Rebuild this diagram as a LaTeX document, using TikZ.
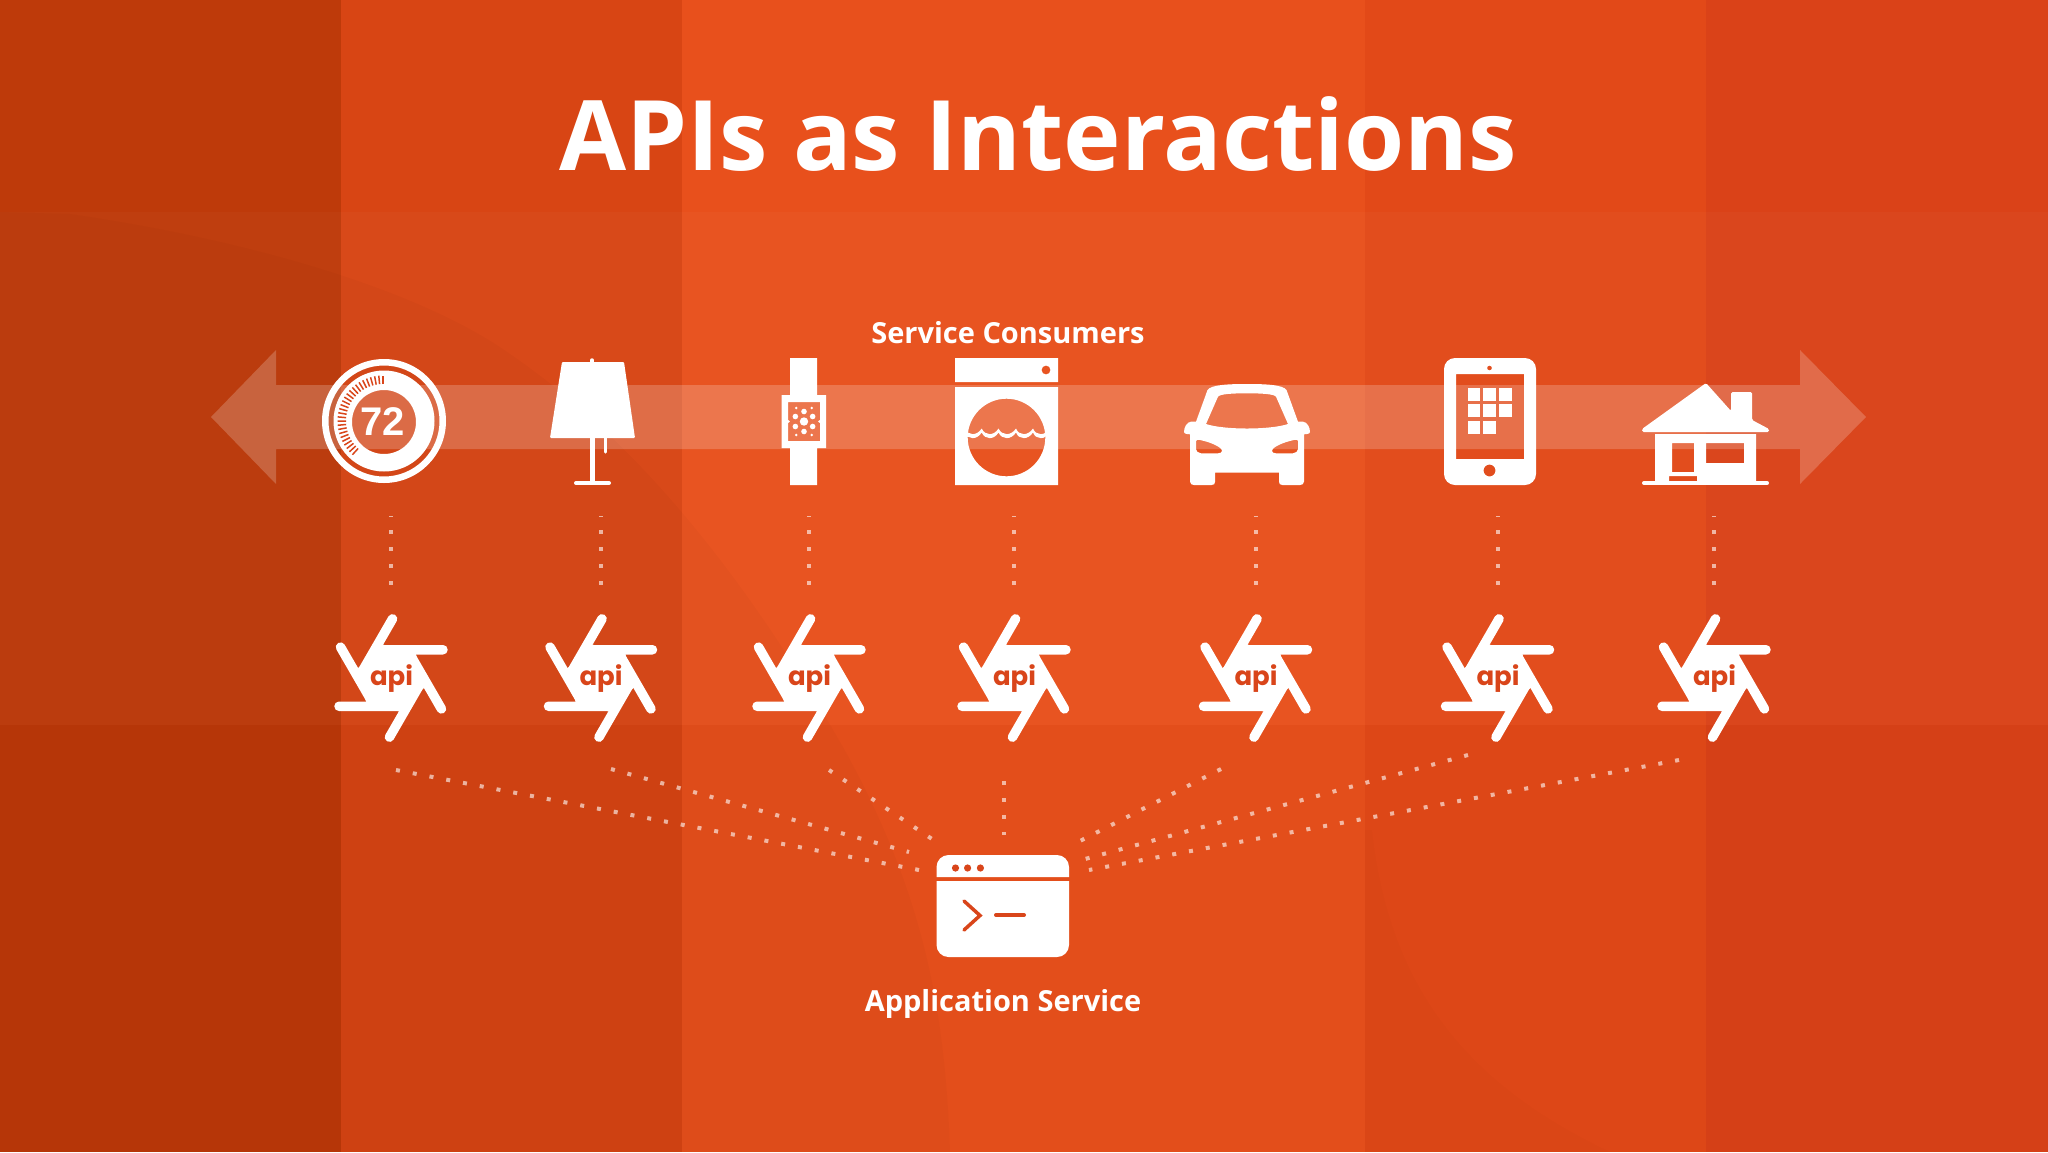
\documentclass[tikz,border=0pt]{standalone}
\usepackage{fontspec}
\setmainfont{Open Sans}
\newfontfamily\apifont{Poppins}
\newfontfamily\digitfont{Liberation Sans}
\definecolor{oc}{HTML}{D9451A}
\tikzset{
  x=1pt,y=-1pt,
  dots/.style={draw=white,draw opacity=.6,line width=4pt,dash pattern=on 4pt off 13.05pt},
  vdots/.style={draw=white,draw opacity=.6,line width=4pt,dash pattern=on 4pt off 13pt,dash phase=3pt},
  lbl/.style={text=white,font=\bfseries\fontsize{29}{32}\selectfont,inner sep=0pt},
  apiicon/.pic={
    \foreach \r in {0,60,...,300} {
      \fill[white,rotate=\r] (0,0) -- (-8.2,-33) [rounded corners=4.6pt] -- (56.7,-33) -- (56.7,-23.5) [sharp corners] -- (25,-23.5) -- cycle;
    }
    \fill[white] (25,-23.5) -- (32.9,9.9) -- (7.9,33.4) -- (-25,23.5) -- (-32.9,-9.9) -- (-7.9,-33.4) -- cycle;
    \node (t) [text=oc,inner sep=0pt,font=\apifont\bfseries\fontsize{26}{26}\selectfont] at (0.5,1) {api};
  }
}
\begin{document}
\begin{tikzpicture}
\useasboundingbox (0,0) rectangle (2048,1152);
% background columns
\fill[oc] (0,0) rectangle (2048,1152);
\fill[fill={rgb,255:red,190;green,58;blue,10}] (0,0) rectangle (341,1152);
\fill[fill={rgb,255:red,216;green,69;blue,20}] (341,0) rectangle (682,1152);
\fill[fill={rgb,255:red,232;green,80;blue,28}] (682,0) rectangle (1365,1152);
\fill[fill={rgb,255:red,226;green,73;blue,24}] (1365,0) rectangle (1706,1152);
\fill[fill={rgb,255:red,218;green,66;blue,24}] (1706,0) rectangle (2048,1152);
% horizontal bands
\fill[white,opacity=.022] (0,212) rectangle (2048,725);
\fill[black,opacity=.018] (0,725) rectangle (2048,1152);
% soft curves
\fill[black,opacity=.018] (0,212) -- (70,214) .. controls (250,240) and (420,290) .. (510,354) .. controls (650,450) and (760,600) .. (848,756) .. controls (920,890) and (945,1000) .. (950,1152) -- (0,1152) -- cycle;
\fill[black,opacity=.012] (1372,830) .. controls (1390,1000) and (1480,1090) .. (1610,1152) -- (1365,1152) -- (1365,830) -- cycle;
% band arrow
\fill[white,opacity=.2] (211,417) -- (276,350) -- (276,385) -- (1800,385) -- (1800,350) -- (1866,417) -- (1800,484) -- (1800,449) -- (276,449) -- (276,484) -- cycle;
% title and labels
\node (title) [text=white,inner sep=0pt,font=\bfseries\fontsize{97.3}{100}\selectfont] at (1038,134) {APIs as Interactions};
\node (consumers) [lbl] at (1008,333) {Service Consumers};
\node (appl) [lbl] at (1003,1004) {Application Service};
% thermostat
\fill[white,even odd rule] (384,421) circle[radius=62] (384,421) circle[radius=55.5]
  (384,421) circle[radius=50.5] (384,422) circle[radius=32];
\foreach \a in {0,5.3,...,140} {
  \draw[oc,line width=1.5pt] ({383-37*sin(\a)},{421-37*cos(\a)}) -- ({383-45.5*sin(\a)},{421-45.5*cos(\a)});
}
\node (temp) [text=white,inner sep=0pt,font=\digitfont\bfseries\fontsize{40}{40}\selectfont] at (383,422) {72};
% lamp
\fill[white,rounded corners=1pt] (562,362) -- (624,362) -- (635,438) -- (550,438) -- cycle;
\draw[white,line width=3.5pt,line cap=round] (592,360) -- (592,364);
\fill[white] (590,436) rectangle (594.5,484);
\draw[white,line width=4pt,line cap=round] (576,483) -- (609,483);
\draw[white,line width=3pt,line cap=round] (605,438) -- (605,452);
% watch
\fill[white,even odd rule] (790,358) -- (817,358) -- (817,395) -- (826,395) -- (826,448) -- (817,448) -- (817,485) -- (790,485) -- (790,448) -- (781.5,448) -- (781.5,395) -- (790,395) -- cycle
  (788,402) rectangle (820,441);
\fill[white] (804,421.5) circle[radius=4.2];
\foreach \a in {30,90,...,330} { \fill[white] ({804+10*cos(\a)},{421.5+10*sin(\a)}) circle[radius=2.8]; }
\foreach \a in {0,60,...,300} { \fill[white] ({804+15.5*cos(\a)},{421.5+15.5*sin(\a)}) circle[radius=1.4]; }
% washer
\fill[white,even odd rule] (955,358) rectangle (1058,382) (1046,370) circle[radius=4.5];
\fill[white,even odd rule] (955,387) rectangle (1058,485) (1006.5,437.5) circle[radius=38.8];
\begin{scope}
\clip (1006.5,437.5) circle[radius=38.8];
\fill[white] (964.7,428.5) .. controls (968,436) and (977,436) .. (981.7,428.5) .. controls (985,436) and (994,436) .. (998.5,428.5) .. controls (1002,436) and (1011,436) .. (1016,428.5) .. controls (1019,436) and (1028,436) .. (1033,428.5) .. controls (1036,436) and (1045,436) .. (1050,428.5)
 -- (1050,432.5) .. controls (1045,440) and (1036,440) .. (1033,432.5) .. controls (1028,440) and (1019,440) .. (1016,432.5) .. controls (1011,440) and (1002,440) .. (998.5,432.5) .. controls (994,440) and (985,440) .. (981.7,432.5) .. controls (977,440) and (968,440) .. (964.7,432.5) -- cycle;
\end{scope}
% car
\fill[white,even odd rule]
  (1247,384) .. controls (1268,384) and (1283,385) .. (1286.5,390) -- (1298,421.7) -- (1303,421.7)
  .. controls (1307,422) and (1310,427) .. (1310,432) .. controls (1310,434) and (1306,434.3) .. (1304,434.3) -- (1304,481.7)
  .. controls (1304,484) and (1302,485) .. (1300,485) -- (1282.5,485) .. controls (1280,485) and (1279,484) .. (1279,481.7) -- (1279,472.7) -- (1215,472.7) -- (1215,481.7)
  .. controls (1215,484) and (1214,485) .. (1211.5,485) -- (1194,485) .. controls (1192,485) and (1190,484) .. (1190,481.7) -- (1190,434.3) .. controls (1188,434.3) and (1184,434) .. (1184,432)
  .. controls (1184,427) and (1187,422) .. (1191,421.7) -- (1196,421.7) -- (1207.5,390) .. controls (1211,385) and (1226,384) .. (1247,384) -- cycle
  (1218,396.7) .. controls (1220,394) and (1232,393.3) .. (1247,393.3) .. controls (1262,393.3) and (1274,394) .. (1276,396.7) -- (1288,424) .. controls (1270,430) and (1224,430) .. (1206,424) -- cycle
  (1196,441) .. controls (1196,439.5) and (1198,439.5) .. (1200,440) .. controls (1210,442) and (1222,447) .. (1222,451) .. controls (1222,452.5) and (1220,453.3) .. (1218,453.3) -- (1201,453.3) .. controls (1198,453.3) and (1196,451) .. (1196,449) -- cycle
  (1298,441) .. controls (1298,439.5) and (1296,439.5) .. (1294,440) .. controls (1284,442) and (1272,447) .. (1272,451) .. controls (1272,452.5) and (1274,453.3) .. (1276,453.3) -- (1293,453.3) .. controls (1296,453.3) and (1298,451) .. (1298,449) -- cycle;
% tablet
\fill[white,even odd rule] [rounded corners=11pt] (1444,358) rectangle (1536,485) [sharp corners] (1456,374) rectangle (1524,459) (1489.5,368) circle[radius=2.4] (1489.5,470.5) circle[radius=6];
\foreach \x/\y in {1467.5/388,1483/388,1499/388,1467.5/404,1483/404,1499/404,1467.5/421,1483/421} {
  \fill[white] (\x,\y) rectangle ++(12.7,13);
}
% house
\fill[white,rounded corners=1.5pt] (1706,383) -- (1731,411) -- (1731,392) -- (1752,392) -- (1752,420) -- (1769,429) -- (1769,432) -- (1642,432) -- (1642,429) -- cycle;
\fill[white,even odd rule] (1655,434) -- (1756,434) -- (1756,481) -- (1655,481) -- cycle
  (1672,443) rectangle (1694,472) (1706,443) rectangle (1744,463) (1669,476) rectangle (1697,481);
\draw[white,line width=4pt,line cap=round] (1644,483) -- (1767,483);
% api icons
\pic (a1) at (391,678) {apiicon};
\pic (a2) at (600.5,678) {apiicon};
\pic (a3) at (809,678) {apiicon};
\pic (a4) at (1014,678) {apiicon};
\pic (a5) at (1255.5,678) {apiicon};
\pic (a6) at (1497.5,678) {apiicon};
\pic (a7) at (1714,678) {apiicon};
% application window
\fill[white] (936.5,877) -- (936.5,867) arc[start angle=180,end angle=270,radius=12] -- (1057,855) arc[start angle=270,end angle=360,radius=12] -- (1069,877) -- cycle;
\fill[white] (936.5,881) -- (1069,881) -- (1069,945) arc[start angle=0,end angle=90,radius=12] -- (948.5,957) arc[start angle=90,end angle=180,radius=12] -- cycle;
\foreach \x in {955.5,967.6,980.4} \fill[oc] (\x,868) circle[radius=3.6];
\draw[oc,line width=3.5pt,line cap=round,line join=miter] (964,901) -- (980,915.5) -- (964,930);
\draw[oc,line width=4pt,line cap=round] (996,915) -- (1024,915);
% connector anchors
\foreach \i/\x in {1/391,2/600.5,3/809,4/1014,5/1255.5,6/1497.5,7/1714} {
  \coordinate (u\i) at (\x,516);
  \coordinate (v\i) at (\x,586);
  \draw[vdots] (u\i) -- (v\i);
}
\coordinate (s1) at (396,770); \coordinate (e1) at (919,870);
\coordinate (s2) at (611,769); \coordinate (e2) at (909,852);
\coordinate (s3) at (829,770); \coordinate (e3) at (932,839);
\coordinate (s4) at (1003.7,781); \coordinate (e4) at (1003.7,835);
\coordinate (s5) at (1221,769); \coordinate (e5) at (1080,841);
\coordinate (s6) at (1468,755); \coordinate (e6) at (1085,859);
\coordinate (s7) at (1679,760); \coordinate (e7) at (1089,870);
\foreach \i in {1,...,7} \draw[dots] (s\i) -- (e\i);
\end{tikzpicture}
\end{document}
